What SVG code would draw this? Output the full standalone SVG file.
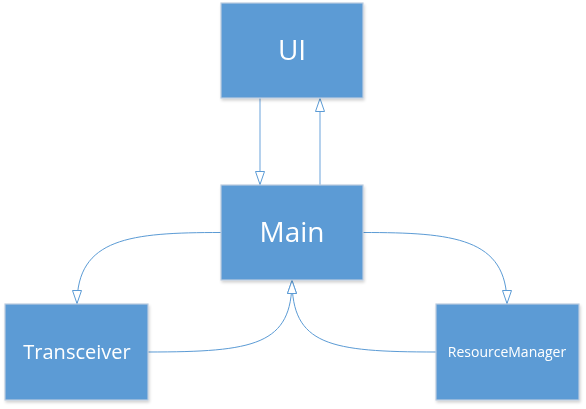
<svg xmlns="http://www.w3.org/2000/svg" width="586" height="409" viewBox="0 0 586 409">
<defs>
<style>
.box{fill:#5B9BD5;stroke:#BCCCE0;stroke-width:1.2}
.lbl{fill:#FFFFFF;font-family:"Open Sans","Noto Sans","Liberation Sans",sans-serif;text-anchor:middle}
.con{fill:none;stroke:#5B9BD5;stroke-width:1}
.vcon{fill:none;stroke:#8DB8E3;stroke-width:1.3}
</style>
<marker id="tri" viewBox="0 0 14 10" refX="14" refY="5" markerWidth="14" markerHeight="10" markerUnits="userSpaceOnUse" orient="auto">
<path d="M0.5,0.5 L13.5,5 L0.5,9.5 Z" fill="#FFFFFF" stroke="#5B9BD5" stroke-width="1"/>
</marker>
<filter id="sh" x="-10%" y="-10%" width="125%" height="125%">
<feGaussianBlur in="SourceAlpha" stdDeviation="1.5"/>
<feOffset dx="1" dy="2"/>
<feComponentTransfer><feFuncA type="linear" slope="0.18"/></feComponentTransfer>
<feMerge><feMergeNode/><feMergeNode in="SourceGraphic"/></feMerge>
</filter>
</defs>
<rect width="586" height="409" fill="#FFFFFF"/>
<g id="connectors">
<path class="vcon" d="M260,98 L260,185" marker-end="url(#tri)"/>
<path class="vcon" d="M320,185 L320,98" marker-end="url(#tri)"/>
<path class="con" d="M221,232.5 C130,232.5 77,238 77,304" marker-end="url(#tri)"/>
<path class="con" d="M363,232.5 C454,232.5 507,238 507,304" marker-end="url(#tri)"/>
<path class="con" d="M148,352 C255,352 292,345 292,280" marker-end="url(#tri)"/>
<path class="con" d="M436,352 C329,352 292,345 292,280" marker-end="url(#tri)"/>
</g>
<g id="node-ui" filter="url(#sh)">
<rect class="box" x="221" y="3" width="142" height="95"/>
<text class="lbl" x="292" y="60" font-size="28">UI</text>
</g>
<g id="node-main" filter="url(#sh)">
<rect class="box" x="221" y="185" width="142" height="95"/>
<text class="lbl" x="292" y="242" font-size="28">Main</text>
</g>
<g id="node-transceiver" filter="url(#sh)">
<rect class="box" x="5" y="304" width="143" height="96"/>
<text class="lbl" x="77" y="359" font-size="20">Transceiver</text>
</g>
<g id="node-resourcemanager" filter="url(#sh)">
<rect class="box" x="436" y="304" width="143" height="96"/>
<text class="lbl" x="507" y="357" font-size="14">ResourceManager</text>
</g>
</svg>
